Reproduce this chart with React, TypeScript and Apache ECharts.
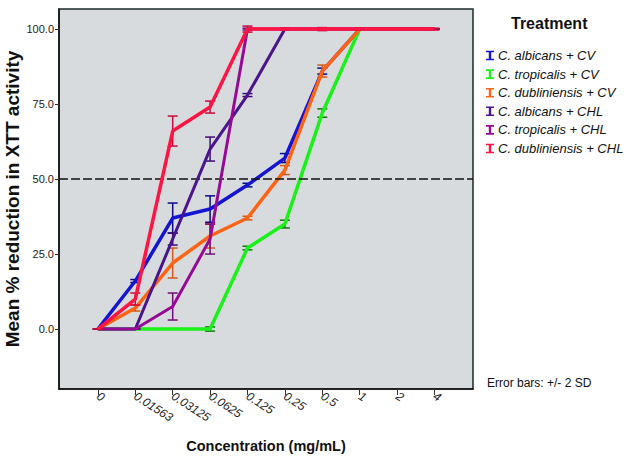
import React, { useEffect, useRef } from "react";
import * as echarts from "echarts";

const concentrations = ["0", "0.01563", "0.03125", "0.0625", "0.125", "0.25", "0.5", "1", "2", "4"];
const yTicks = [0, 25, 50, 75, 100];

const seriesNames = [
  "C. albicans + CV",
  "C. tropicalis + CV",
  "C. dubliniensis + CV",
  "C. albicans + CHL",
  "C. tropicalis + CHL",
  "C. dubliniensis + CHL",
];

const albicansCV = [0, 16, 37, 40, 48, 57, 86, 100, 100, 100];
const tropicalisCV = [0, 0, 0, 0, 27, 35, 72, 100, 100, 100];
const dubliniensisCV = [0, 7, 22, 31, 37, 53, 86, 100, 100, 100];
const albicansCHL = [0, 0, 30, 60, 78, 100, 100, 100, 100, 100];
const tropicalisCHL = [0, 0, 7.5, 30, 100, 100, 100, 100, 100, 100];
const dubliniensisCHL = [0, 10, 66, 74, 100, 100, 100, 100, 100, 100];

const albicansCVErr = [0, 0.5, 5, 4.4, 0.6, 1.5, 1, 0.3, 0, 0];
const tropicalisCVErr = [0, 0, 0, 0.7, 0.6, 1.3, 1.4, 0.3, 0, 0];
const dubliniensisCVErr = [0, 1, 5, 4, 0.6, 1.5, 2, 0.3, 0, 0];
const albicansCHLErr = [0, 0, 2, 4, 0.5, 0.3, 0, 0, 0, 0];
const tropicalisCHLErr = [0, 0, 4.5, 5, 0.3, 0, 0, 0, 0, 0];
const dubliniensisCHLErr = [0, 2, 5, 2, 1, 0.3, 0.5, 0.3, 0, 0.3];

const allValues = [albicansCV, tropicalisCV, dubliniensisCV, albicansCHL, tropicalisCHL, dubliniensisCHL];
const allErrors = [albicansCVErr, tropicalisCVErr, dubliniensisCVErr, albicansCHLErr, tropicalisCHLErr, dubliniensisCHLErr];
const lineColors = ["#1414d2", "#1af01a", "#ff6414", "#4a148c", "#960a96", "#ff1444"];
const barColors = ["#0a0a8c", "#0a7a0a", "#d25a1e", "#3c0a78", "#780a78", "#c80a3c"];
const lineWidths = [3.5, 3.5, 3.5, 3, 3, 3.5];

const FONT = "Liberation Sans, Arial, sans-serif";
const ibeam = "path://M0,0 H10 V2 H6.5 V10 H10 V12 H0 V10 H3.5 V2 H0 Z";

export default function App() {
  const ref = useRef<HTMLDivElement>(null);
  useEffect(() => {
    if (!ref.current) return;
    const chart = echarts.init(ref.current, null, { renderer: "svg" });
    const series: any[] = [];
    allValues.forEach((vals, si) => {
      series.push({
        type: "line",
        name: seriesNames[si],
        data: vals.map((v, i) => [i, v]),
        symbol: "none",
        color: lineColors[si],
        lineStyle: { width: lineWidths[si], color: lineColors[si] },
        z: 2 + si,
        markLine:
          si === 0
            ? {
                silent: true,
                symbol: "none",
                label: { show: false },
                lineStyle: { color: "#111", type: [9, 3], width: 1.5 },
                data: [{ yAxis: 50 }],
              }
            : undefined,
      });
      series.push({
        type: "custom",
        name: "err" + si,
        data: vals.map((v, i) => [i, v, allErrors[si][i]]),
        z: 2 + si,
        renderItem: (params: any, api: any) => {
          const x = api.value(0);
          const y = api.value(1);
          const e = api.value(2);
          const top = api.coord([x, y + e]);
          const bot = api.coord([x, y - e]);
          const st = { stroke: barColors[si], lineWidth: 1.5 };
          const w = 5;
          return {
            type: "group",
            children: [
              { type: "line", shape: { x1: top[0], y1: top[1], x2: bot[0], y2: bot[1] }, style: st },
              { type: "line", shape: { x1: top[0] - w, y1: top[1], x2: top[0] + w, y2: top[1] }, style: st },
              { type: "line", shape: { x1: bot[0] - w, y1: bot[1], x2: bot[0] + w, y2: bot[1] }, style: st },
            ],
          };
        },
      });
    });

    chart.setOption({
      animation: false,
      textStyle: { fontFamily: FONT },
      grid: {
        left: 59,
        right: 152,
        top: 9,
        bottom: 67,
        outerBoundsMode: "none",
        containLabel: false,
        show: true,
        backgroundColor: "#d8dbdd",
        borderColor: "#1c2a2c",
        borderWidth: 1.5,
      },
      legend: {
        data: seriesNames,
        orient: "vertical",
        left: 481,
        top: 44,
        icon: ibeam,
        itemWidth: 8,
        itemHeight: 11,
        itemGap: 5.6,
        selectedMode: false,
        textStyle: { fontFamily: FONT, fontSize: 13, fontStyle: "italic", color: "#111", padding: [0, 0, 0, -1] },
      },
      xAxis: {
        type: "value",
        min: -1.04,
        max: 10.03,
        splitLine: { show: false },
        axisLine: { show: true, onZero: false, lineStyle: { color: "#111", width: 1.5 } },
        axisTick: { show: true, length: 6, lineStyle: { color: "#333" }, customValues: concentrations.map((_, i) => i) },
        axisLabel: {
          customValues: concentrations.map((_, i) => i),
          formatter: (v: number) => concentrations[Math.round(v)] ?? "",
          rotate: -33,
          margin: 6,
          fontSize: 12,
          fontStyle: "italic",
          color: "#222",
          fontFamily: FONT,
        },
        name: "Concentration (mg/mL)",
        nameLocation: "middle",
        nameGap: 49,
        nameMoveOverlap: false,
        nameTextStyle: { fontFamily: FONT, fontSize: 14.5, fontWeight: "bold", color: "#111" },
      },
      yAxis: {
        type: "value",
        min: -20,
        max: 106.7,
        splitLine: { show: false },
        axisLine: { show: true, onZero: false, lineStyle: { color: "#111", width: 1.5 } },
        axisTick: { show: true, length: 4, lineStyle: { color: "#333" }, customValues: yTicks },
        axisLabel: {
          customValues: yTicks,
          formatter: (v: number) => v.toFixed(1),
          fontSize: 11,
          color: "#222",
          margin: 5,
          fontFamily: FONT,
        },
        name: "Mean % reduction in XTT activity",
        nameLocation: "middle",
        nameGap: 37,
        nameMoveOverlap: false,
        nameTextStyle: { fontFamily: FONT, fontSize: 19, fontWeight: "bold", color: "#111" },
      },
      graphic: [
        {
          type: "text",
          left: 511,
          top: 15,
          style: { text: "Treatment", font: "bold 16px " + FONT, fill: "#111" },
        },
        {
          type: "text",
          left: 487,
          top: 377,
          style: { text: "Error bars: +/- 2 SD", font: "12px " + FONT, fill: "#111" },
        },
      ],
      series,
    });
    return () => chart.dispose();
  }, []);
  return <div ref={ref} style={{ width: 625, height: 456, position: "absolute", left: 0, top: 0 }} />;
}
